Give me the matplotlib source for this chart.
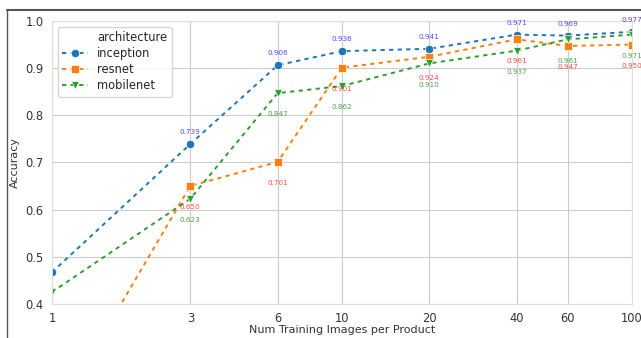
import matplotlib
matplotlib.use("Agg")
import matplotlib.pyplot as plt
import seaborn as sns
from matplotlib.lines import Line2D

# data
num_images = [1, 3, 6, 10, 20, 40, 60, 100]
inception = [0.467, 0.739, 0.906, 0.936, 0.941, 0.971, 0.969, 0.977]
resnet = [0.150, 0.650, 0.701, 0.901, 0.924, 0.961, 0.947, 0.950]
mobilenet = [0.425, 0.623, 0.847, 0.862, 0.910, 0.937, 0.961, 0.971]
tick_values = [1, 3, 6, 10, 20, 40, 60, 100]

sns.set_style("whitegrid")
plt.rcParams['font.family'] = ['DejaVu Sans']

fig = plt.figure(figsize=(6.41, 3.38), dpi=100)
ax = fig.add_axes([0.081, 0.101, 0.905, 0.837])

dash = (0, (2.2, 2.2))
series = [
    ("inception", inception, "o", "#1f77b4", "blue", 0.025),
    ("resnet", resnet, "s", "#ff7f0e", "red", -0.045),
    ("mobilenet", mobilenet, "v", "#2ca02c", "green", -0.045),
]

handles = [Line2D([], [], linestyle="none")]
labels = ["architecture"]
for name, vals, marker, color, txt_color, off in series:
    h, = ax.plot(num_images, vals, linestyle=dash, linewidth=1.4, marker=marker,
                 markersize=6, color=color, markeredgecolor="white",
                 markeredgewidth=0.5, label=name)
    handles.append(h)
    labels.append(name)
    # value labels, skip the first point
    for x, v in zip(num_images[1:], vals[1:]):
        ax.text(x, v + off, "%.3f" % v, fontsize=5.2, color=txt_color,
                alpha=0.7, ha="center", va="center")

ax.set_xscale("log")
ax.set_xlim(1, 100)
ax.set_ylim(0.4, 1.0)
ax.set_xticks(tick_values)
ax.set_xticklabels([str(t) for t in tick_values])
ax.minorticks_off()
ax.tick_params(labelsize=8.3, colors="#333333", pad=2.5)
ax.set_xlabel("Num Training Images per Product", fontsize=8, color="#333333", labelpad=0)
ax.set_ylabel("Accuracy", fontsize=8, color="#333333", labelpad=4)
for s in ax.spines.values():
    s.set_color("#dddddd")

leg = ax.legend(handles, labels, loc="upper left", fontsize=8.3, frameon=True,
                borderpad=0.4, labelspacing=0.25, handlelength=2.2)
leg.get_frame().set_edgecolor("#cccccc")

# screenshot border
fig.add_artist(Line2D([0.011, 1.0], [0.971, 0.971], color="#555555", linewidth=1.5))
fig.add_artist(Line2D([0.011, 0.011], [0.0, 0.971], color="#555555", linewidth=1.0))

fig.savefig("out.png", dpi=100)
